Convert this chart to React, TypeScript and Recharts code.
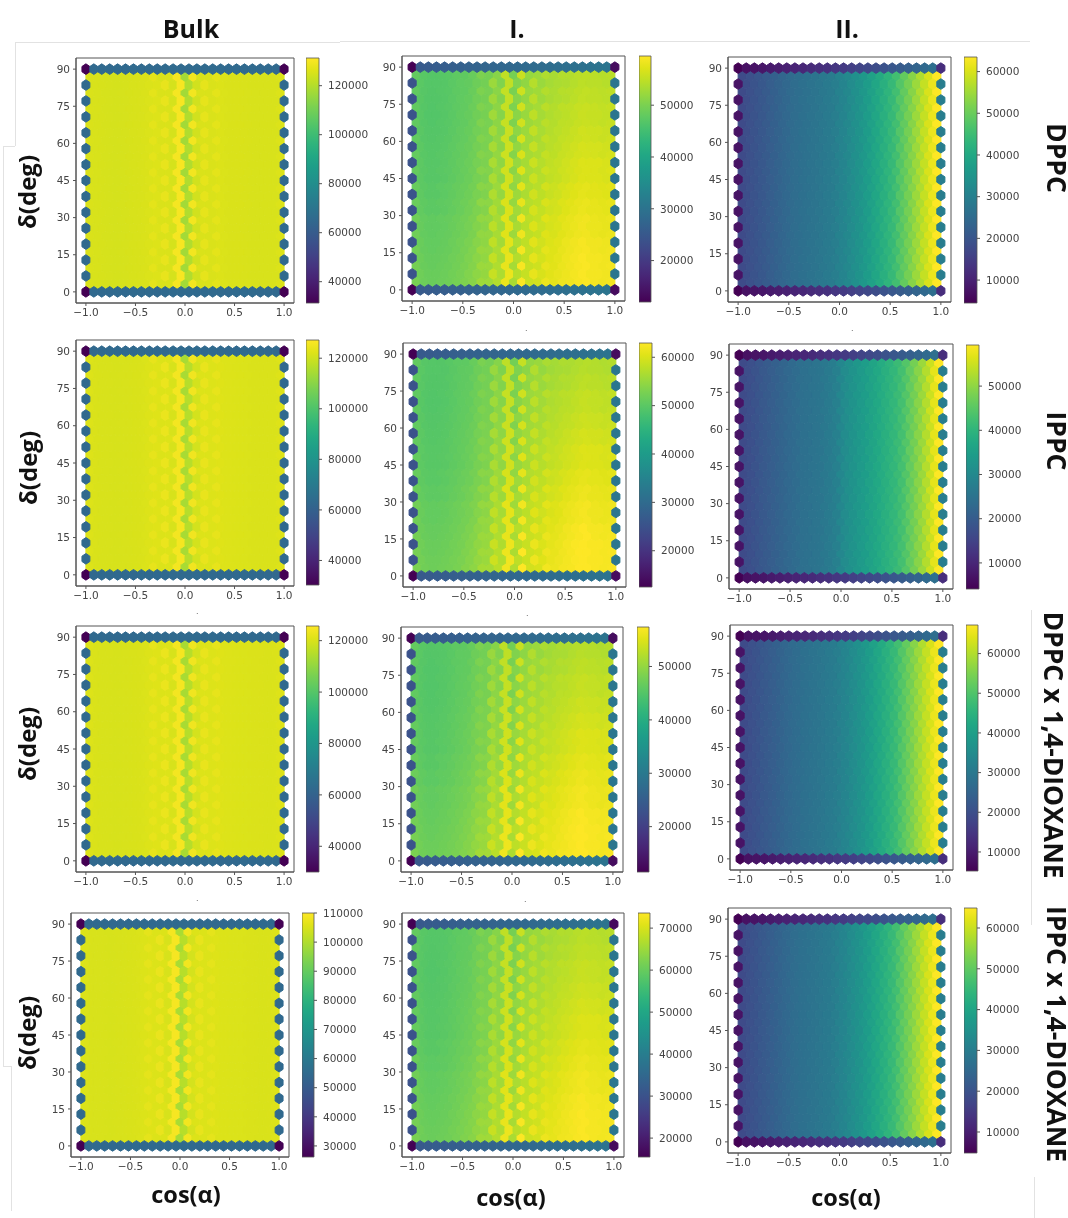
import React from "react";
import { ScatterChart, Scatter, XAxis, YAxis, ReferenceArea, ComposedChart, Bar } from "recharts";

const cosBins = [-1,-0.96,-0.92,-0.88,-0.84,-0.8,-0.76,-0.72,-0.68,-0.64,-0.6,-0.56,-0.52,-0.48,-0.44,-0.4,-0.36,-0.32,-0.28,-0.24,-0.2,-0.16,-0.12,-0.08,-0.04,0,0.04,0.08,0.12,0.16,0.2,0.24,0.28,0.32,0.36,0.4,0.44,0.48,0.52,0.56,0.6,0.64,0.68,0.72,0.76,0.8,0.84,0.88,0.92,0.96,1];
const wholeDeltas = [0,6.43,12.86,19.29,25.71,32.14,38.57,45,51.43,57.86,64.29,70.71,77.14,83.57,90];
const halfDeltas = [3.21,9.64,16.07,22.5,28.93,35.36,41.79,48.21,54.64,61.07,67.5,73.93,80.36,86.79];
const cosTicks = [-1,-0.5,0,0.5,1];
const deltaTicks = [0,15,30,45,60,75,90];

// Interior hexagon counts by cos(alpha) bin, x = -0.96 ... 0.96
const bulkDppc = [125600,125300,125200,125100,125000,125000,124900,124900,125000,125000,125100,125200,125300,125400,125500,125700,127200,126000,125500,127800,125600,124800,130000,130300,117500,119500,129500,124200,125600,127500,125600,125600,127200,125900,125700,125600,125600,125500,125500,125400,125400,125300,125300,125300,125200,125200,125200,125300,125800];
const bulkIppc = [122000,121600,121500,121400,121300,121300,121200,121200,121300,121300,121400,121500,121500,121600,121800,122000,123600,122300,121900,124300,122000,121200,125600,125800,114500,116500,125300,120700,122000,123900,122000,122000,123600,122300,122100,122000,122000,121900,121900,121800,121800,121700,121700,121700,121600,121600,121600,121700,122200];
const bulkDppcDiox = [120600,120200,120100,120000,119900,119900,119800,119800,119900,119900,120000,120100,120100,120200,120400,120600,122200,120900,120500,122900,120600,119800,124100,124400,113200,115200,123700,119300,120600,122500,120600,120600,122200,120900,120700,120600,120600,120500,120500,120400,120400,120300,120300,120300,120200,120200,120200,120300,120800];
const bulkIppcDiox = [105500,105100,105000,104900,104900,104900,104800,104800,104900,104900,105000,105100,105100,105200,105300,105500,106700,105700,105400,107300,105500,104800,108800,109000,99200,100800,108500,104400,105500,107000,105500,105500,106700,105700,105500,105400,105400,105300,105300,105300,105300,105200,105200,105200,105100,105100,105100,105200,105600];

const layer1Dppc = [48100,47400,47150,46900,46900,46900,47150,47150,47400,47600,47900,48100,48300,48600,49050,49500,50700,50000,50500,53300,51900,51400,55900,55900,51000,51900,56900,52900,53300,55500,53800,54000,55500,54750,55000,55200,55700,55900,56200,56400,56650,56900,56900,56900,56900,56900,56650,56650,56900];
const layer1Ippc = [50800,50100,49800,49600,49600,49600,49800,49800,50100,50300,50600,50800,51100,51300,51900,52400,53600,52900,53400,56400,54900,54400,59200,59200,53900,54900,60200,55900,56400,58700,56900,57100,58700,57900,58200,58400,58900,59200,59400,59700,59900,60200,60200,60200,60200,60200,59900,59900,60200];
const layer1DppcDiox = [46400,45700,45500,45200,45200,45200,45500,45500,45700,45900,46200,46400,46600,46800,47300,47800,48900,48200,48700,51400,50100,49600,53900,53900,49100,50100,54900,51000,51400,53500,51900,52100,53500,52800,53000,53300,53700,53900,54200,54400,54600,54900,54900,54900,54900,54900,54600,54600,54900];
const layer1IppcDiox = [59700,58800,58500,58200,58200,58200,58500,58500,58800,59100,59400,59700,60000,60200,60800,61400,62900,62000,62600,66000,64300,63700,69200,69200,63100,64300,70400,65500,66000,68700,66600,66900,68700,67800,68100,68400,69000,69200,69500,69800,70100,70400,70400,70400,70400,70400,70100,70100,70400];

const layer2Dppc = [17800,18400,19000,19500,20100,20700,21300,21900,22500,23100,23700,24300,24900,25300,25700,26100,26400,26800,27200,27500,28000,28500,28900,29500,30500,31050,31950,32800,33700,34600,35800,36950,38100,39300,40500,41700,42850,44000,45500,47600,49300,51100,52900,54650,56400,58200,60000,61700,63500];
const layer2Ippc = [16500,17100,17600,18200,18700,19300,19800,20400,20900,21500,22000,22600,23100,23500,24000,24300,24600,25000,25300,25600,26100,26700,27300,28100,29500,30600,31400,32250,33100,33900,34700,35550,36400,37200,38050,38900,39700,40500,41600,42700,44300,46050,47700,49400,51000,52950,54900,57100,59300];
const layer2DppcDiox = [19100,19800,20400,21000,21600,22300,22900,23500,24100,24700,25400,26000,26600,27000,27500,27900,28300,28600,29000,29400,29900,30400,30900,31500,32500,33100,34000,35000,35900,36800,38100,39300,40500,41800,43000,44300,45500,46700,48300,50500,52300,54200,56000,57900,59800,61600,63500,65300,67200];
const layer2IppcDiox = [18400,19000,19600,20200,20800,21400,22000,22600,23200,23800,24400,25000,25600,26000,26500,26800,27200,27550,27900,28300,28750,29200,29700,30300,31300,31900,32800,33700,34600,35500,36700,37900,39100,40300,41500,42700,43900,45100,46600,48700,50500,52300,54100,55900,57700,59500,61300,63100,64900];

// Top and bottom rows, x = -1 ... 1 in steps of 0.08
const rimBulkDppc = [31300,65100,65200,65300,65400,65300,65400,65500,65400,65300,65400,65500,65600,65600,65500,65400,65500,65400,65300,65400,65500,65400,65300,65200,65200,31300];
const rimBulkIppc = [30300,63000,63100,63100,63200,63100,63200,63300,63200,63100,63200,63300,63400,63400,63300,63200,63300,63200,63100,63200,63300,63200,63100,63000,63000,30300];
const rimBulkDppcDiox = [30000,62300,62400,62400,62500,62400,62500,62600,62500,62400,62500,62600,62700,62700,62600,62500,62600,62500,62400,62500,62600,62500,62400,62300,62300,30000];
const rimBulkIppcDiox = [26200,54500,54600,54600,54700,54600,54700,54800,54700,54600,54700,54800,54900,54900,54800,54700,54800,54700,54600,54700,54800,54700,54600,54500,54500,26200];
const rimLayer1Dppc = [12000,25300,25500,25800,26000,26300,26500,26800,27000,27300,27500,27700,27900,28100,28300,28500,28700,28900,29100,29300,29500,29700,29900,30100,30300,13500];
const rimLayer1Ippc = [12500,26600,26800,27100,27300,27600,27800,28100,28300,28600,28800,29000,29200,29400,29600,29800,30000,30200,30400,30600,30800,31000,31200,31400,31650,14000];
const rimLayer1DppcDiox = [11500,24300,24500,24700,24900,25100,25300,25600,25800,26000,26200,26400,26600,26800,27000,27200,27400,27600,27800,28000,28200,28400,28600,28800,28900,13000];
const rimLayer1IppcDiox = [15500,31700,32000,32300,32500,32800,33000,33300,33600,33900,34100,34300,34600,34800,35100,35300,35600,35800,36000,36300,36500,36700,37000,37200,37500,17000];
const rimLayer2Dppc = [4500,7150,7450,8050,8650,9200,9800,10400,11000,11600,12200,12750,13650,14500,15400,16300,17200,18100,19250,20400,21300,22200,23400,24550,25750,12150];
const rimLayer2Ippc = [4100,6600,6900,7400,8000,8500,9100,9600,10200,10700,11300,11800,12700,13500,14300,15100,16000,16800,17900,19000,19800,20650,21750,22900,24000,11300];
const rimLayer2DppcDiox = [5200,8000,8300,8900,9500,10200,10800,11400,12000,12600,13300,13900,14800,15700,16700,17600,18500,19500,20700,21900,22900,23800,25000,26300,27500,13300];
const rimLayer2IppcDiox = [4850,7550,7850,8450,9050,9650,10250,10850,11450,12050,12650,13250,14150,15050,15950,16850,17750,18650,19850,21050,21950,22850,24050,25250,26450,12650];

// Layer I change with delta, in thousandths of the colour-bar span.
// Rows: delta bands of 7.5 deg from 0 to 90. Columns: cos(alpha) zones of width 0.25.
const layer1Drift = [
  [35,35,40,45,50,55,50,40],
  [30,30,35,40,45,50,50,40],
  [25,25,30,33,40,45,45,35],
  [20,20,22,28,30,35,35,25],
  [12,12,15,18,20,25,25,18],
  [6,8,8,10,12,15,15,10],
  [2,2,3,3,4,4,2,0],
  [0,0,0,-2,-4,-6,-8,-12],
  [-3,-3,-4,-7,-10,-13,-18,-22],
  [-5,-5,-7,-12,-16,-20,-27,-32],
  [-4,-6,-10,-16,-22,-30,-38,-42],
  [-2,-6,-12,-20,-28,-36,-46,-50],
];
const driftGains = { dppc: 1, ippc: 1.2, dppcDiox: 1.15, ippcDiox: 1.05 };

const viridis = ["#440154","#471365","#482475","#463480","#414487","#3b528b","#355f8d","#2f6c8e","#2a788e","#25848e","#21918c","#1e9c89","#22a884","#2fb47c","#44bf70","#5ec962","#7ad151","#9bd93c","#bddf26","#dfe318","#fde725"];
const hex2 = (c: string) => [1, 3, 5].map((i) => parseInt(c.slice(i, i + 2), 16));
function colorAt(t: number) {
  const u = Math.max(0, Math.min(0.99999, t)) * (viridis.length - 1);
  const k = Math.floor(u), f = u - k;
  const a = hex2(viridis[k]), b = hex2(viridis[k + 1]);
  return `rgb(${a.map((v, j) => Math.round(v + (b[j] - v) * f)).join(",")})`;
}

const panels = [
  { id: "a", box: [76, 294, 58, 303], bar: [306, 319, 58, 303], range: [31300, 131300], ticks: [40000,60000,80000,100000,120000], inner: bulkDppc, rim: rimBulkDppc, left: 65400, right: 65400 },
  { id: "b", box: [402, 625, 56, 301], bar: [639, 651, 56, 302], range: [12000, 59500], ticks: [20000,30000,40000,50000], inner: layer1Dppc, rim: rimLayer1Dppc, left: 23900, right: 30500, gain: driftGains.dppc },
  { id: "c", box: [728, 951, 57, 302], bar: [964, 977, 57, 303], range: [4500, 63500], ticks: [10000,20000,30000,40000,50000,60000], inner: layer2Dppc, rim: rimLayer2Dppc, left: 7450, right: 29300 },
  { id: "d", box: [76, 294, 340, 586], bar: [306, 319, 340, 585], range: [30300, 127200], ticks: [40000,60000,80000,100000,120000], inner: bulkIppc, rim: rimBulkIppc, left: 63200, right: 63200 },
  { id: "e", box: [403, 626, 343, 587], bar: [639, 652, 343, 587], range: [12500, 62950], ticks: [20000,30000,40000,50000,60000], inner: layer1Ippc, rim: rimLayer1Ippc, left: 25100, right: 32200, gain: driftGains.ippc },
  { id: "f", box: [729, 953, 344, 589], bar: [966, 979, 345, 589], range: [4100, 59300], ticks: [10000,20000,30000,40000,50000], inner: layer2Ippc, rim: rimLayer2Ippc, left: 6900, right: 27300 },
  { id: "g", box: [76, 294, 626, 872], bar: [306, 319, 626, 872], range: [30000, 125700], ticks: [40000,60000,80000,100000,120000], inner: bulkDppcDiox, rim: rimBulkDppcDiox, left: 62500, right: 62500 },
  { id: "h", box: [401, 623, 627, 872], bar: [637, 649, 627, 872], range: [11500, 57400], ticks: [20000,30000,40000,50000], inner: layer1DppcDiox, rim: rimLayer1DppcDiox, left: 23000, right: 29400, gain: driftGains.dppcDiox },
  { id: "i", box: [730, 953, 625, 870], bar: [966, 978, 625, 871], range: [5200, 67200], ticks: [10000,20000,30000,40000,50000,60000], inner: layer2DppcDiox, rim: rimLayer2DppcDiox, left: 8300, right: 31200 },
  { id: "j", box: [71, 289, 913, 1157], bar: [302, 314, 913, 1157], range: [26200, 110000], ticks: [30000,40000,50000,60000,70000,80000,90000,100000,110000], inner: bulkIppcDiox, rim: rimBulkIppcDiox, left: 54700, right: 54700 },
  { id: "k", box: [402, 624, 913, 1157], bar: [638, 650, 913, 1157], range: [15500, 73600], ticks: [20000,30000,40000,50000,60000,70000], inner: layer1IppcDiox, rim: rimLayer1IppcDiox, left: 30000, right: 38200, gain: driftGains.ippcDiox },
  { id: "l", box: [728, 951, 908, 1153], bar: [964, 977, 908, 1153], range: [4850, 64900], ticks: [10000,20000,30000,40000,50000,60000], inner: layer2IppcDiox, rim: rimLayer2IppcDiox, left: 7850, right: 30050 },
];

function buildCells(p: any) {
  const cells: { x: number; y: number; v: number }[] = [];
  const span = p.range[1] - p.range[0];
  const at = (i: number, y: number) => {
    const x = cosBins[i];
    const extra = p.gain
      ? (layer1Drift[Math.min(11, Math.floor(y / 7.5))][Math.min(7, Math.floor((x + 1) / 0.25))] * span * p.gain) / 1000
      : 0;
    return { x, y, v: p.inner[i - 1] + extra };
  };
  halfDeltas.forEach((y) => { for (let i = 1; i < 50; i += 2) cells.push(at(i, y)); });
  wholeDeltas.slice(1, -1).forEach((y) => { for (let i = 2; i < 50; i += 2) cells.push(at(i, y)); });
  wholeDeltas.slice(1, -1).forEach((y) => {
    cells.push({ x: -1, y, v: p.left });
    cells.push({ x: 1, y, v: p.right });
  });
  [90, 0].forEach((y) => p.rim.forEach((v: number, k: number) => cells.push({ x: cosBins[k * 2], y, v })));
  return cells;
}

const axisInk = "#555";
const tickText = { fontSize: 10.5, fill: "#444", fontFamily: "DejaVu Sans" };
const signed = (v: number) => (v < 0 ? "\u2212" : "") + Math.abs(v).toFixed(1);

function HexPanel({ p }: { p: any }) {
  const [l, r, t, b] = p.box;
  const [vmin, vmax] = p.range;
  const w = r - l, h = b - t;
  const hw = (w / 2.2) * 0.08, hh = (h / 99) * (90 / 14);
  const shape = (s: any) => {
    const cx = s.cx, cy = s.cy;
    const pts = [[0.5, -0.5], [0.5, 0.5], [0, 1], [-0.5, 0.5], [-0.5, -0.5], [0, -1]]
      .map(([a, c]) => `${cx + a * hw},${cy + (c * hh) / 3}`).join(" ");
    const fill = colorAt((s.payload.v - vmin) / (vmax - vmin));
    return <polygon points={pts} fill={fill} stroke={fill} strokeWidth={1} />;
  };
  return (
    <div style={{ position: "absolute", left: l - 50, top: t - 8 }}>
      <ScatterChart width={w + 62} height={h + 38} margin={{ top: 8, right: 12, bottom: 0, left: 0 }}>
        <XAxis type="number" dataKey="x" domain={[-1.1, 1.1]} ticks={cosTicks} interval={0} tickFormatter={signed} height={30} tick={tickText} tickSize={3} tickMargin={3} tickLine={{ stroke: axisInk }} axisLine={{ stroke: axisInk }} />
        <YAxis type="number" dataKey="y" domain={[-4.5, 94.5]} ticks={deltaTicks} interval={0} width={50} tick={tickText} tickSize={3} tickMargin={3} tickLine={{ stroke: axisInk }} axisLine={{ stroke: axisInk }} />
        <Scatter data={buildCells(p)} shape={shape} isAnimationActive={false} />
        <ReferenceArea x1={-1.1} x2={1.1} y1={-4.5} y2={94.5} fill="none" stroke={axisInk} strokeWidth={1} />
      </ScatterChart>
    </div>
  );
}

function ColorBar({ p }: { p: any }) {
  const [l, r, t, b] = p.bar;
  const gid = "vir" + p.id;
  return (
    <div style={{ position: "absolute", left: l, top: t - 8 }}>
      <ComposedChart width={r - l + 54} height={b - t + 16} margin={{ top: 8, right: 0, bottom: 8, left: 0 }} barCategoryGap={0} data={[{ name: "scale", span: p.range }]}>
        <defs>
          <linearGradient id={gid} x1="0" y1="1" x2="0" y2="0">
            {viridis.map((c, i) => <stop key={c} offset={i / (viridis.length - 1)} stopColor={c} />)}
          </linearGradient>
        </defs>
        <XAxis dataKey="name" hide />
        <YAxis orientation="right" type="number" domain={p.range} ticks={p.ticks} interval={0} width={54} tick={tickText} tickSize={3} tickMargin={6} tickLine={{ stroke: axisInk }} axisLine={false} />
        <Bar dataKey="span" fill={`url(#${gid})`} stroke={axisInk} strokeWidth={0.8} isAnimationActive={false} />
      </ComposedChart>
    </div>
  );
}

const bold = { fontFamily: "'Open Sans', sans-serif", fontWeight: 700, color: "#111" };
function Note({ x, y, text, size, turn = 0 }: { x: number; y: number; text: string; size: number; turn?: number }) {
  return (
    <div style={{ ...bold, position: "absolute", left: x, top: y, fontSize: size, lineHeight: 1, whiteSpace: "nowrap", transform: `translate(-50%,-50%) rotate(${turn}deg)` }}>{text}</div>
  );
}

const columnTitles = [{ x: 191, y: 28, text: "Bulk" }, { x: 517, y: 28, text: "I." }, { x: 847, y: 28, text: "II." }];
const rowTitles = [
  { x: 1057, y: 158, text: "DPPC" },
  { x: 1057, y: 441, text: "IPPC" },
  { x: 1054, y: 745, text: "DPPC x 1,4-DIOXANE" },
  { x: 1057, y: 1034, text: "IPPC x 1,4-DIOXANE" },
];
const deltaTitles = [{ x: 27, y: 192 }, { x: 28, y: 468 }, { x: 27, y: 744 }, { x: 27, y: 1033 }];
const cosTitles = [{ x: 186, y: 1195 }, { x: 511, y: 1198 }, { x: 846, y: 1198 }];
const specks = [[525, 325], [851, 325], [196, 608], [526, 610], [196, 895], [524, 896]];
const seams = [[15, 42, 325, 1], [340, 41, 690, 1], [15, 42, 1, 104], [3, 146, 12, 1], [3, 146, 1, 920], [3, 1066, 8, 1], [11, 1066, 1, 145], [1031, 610, 1, 315], [1034, 1177, 1, 41]];

export default function App() {
  return (
    <div style={{ position: "absolute", left: 0, top: 0, width: 1068, height: 1218, background: "#fff", overflow: "hidden", filter: "blur(0.45px)" }}>
      {seams.map(([x, y, w, h], i) => <div key={i} style={{ position: "absolute", left: x, top: y, width: w, height: h, background: "#e2e2e2" }} />)}
      {panels.map((p) => <HexPanel key={p.id} p={p} />)}
      {panels.map((p) => <ColorBar key={p.id} p={p} />)}
      {columnTitles.map((n) => <Note key={n.text} x={n.x} y={n.y} text={n.text} size={25} />)}
      {rowTitles.map((n) => <Note key={n.text} x={n.x} y={n.y} text={n.text} size={26.5} turn={90} />)}
      {deltaTitles.map((n, i) => <Note key={i} x={n.x} y={n.y} text="δ(deg)" size={24} turn={-90} />)}
      {cosTitles.map((n, i) => <Note key={i} x={n.x} y={n.y} text="cos(α)" size={23.5} />)}
      {specks.map(([x, y], i) => <div key={i} style={{ position: "absolute", left: x, top: y, fontSize: 8, lineHeight: 1, color: "#666", fontFamily: "DejaVu Sans" }}>.</div>)}
    </div>
  );
}
